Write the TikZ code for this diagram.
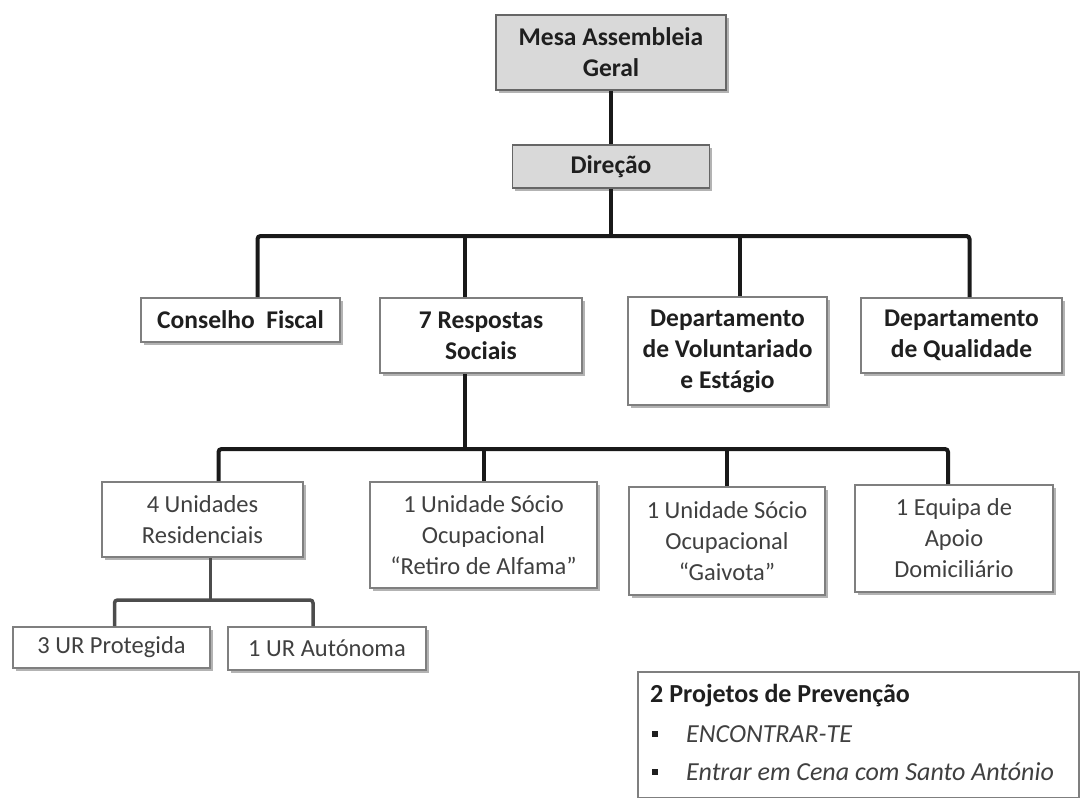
\documentclass[tikz,border=0pt]{standalone}
\usepackage{fontspec}
\setmainfont{Carlito}
\usetikzlibrary{shadows}
\definecolor{boxline}{HTML}{7F7F7F}
\definecolor{topfill}{HTML}{D9D9D9}
\definecolor{txtdark}{HTML}{1F1F1F}
\definecolor{txtgray}{HTML}{404040}
\tikzset{
  orgbox/.style={draw=boxline, line width=1.6pt, fill=white, align=center, inner sep=0pt,
    drop shadow={shadow xshift=2.5pt, shadow yshift=-2.5pt, fill=black!50, opacity=0.6},
    font=\fontsize{24.5}{31}\selectfont, text=txtgray},
  deptbox/.style={orgbox, font=\fontsize{25.5}{31}\selectfont\bfseries, text=txtdark},
  headbox/.style={deptbox, fill=topfill, draw=black!60},
  conn/.style={line width=4pt, black!90, rounded corners=3pt},
  subconn/.style={line width=3.5pt, black!70, rounded corners=3pt},
}
\begin{document}
\begin{tikzpicture}[x=1pt,y=-1pt]
\useasboundingbox (0,0) rectangle (1080,798);
% top of the chart
\node[headbox, minimum width=230pt, minimum height=75pt] (mesa) at (611,52.5) {Mesa Assembleia\\Geral};
\node[headbox, minimum width=197pt, minimum height=43pt] (dir) at (611,166.5) {Direção};
% first level
\node[deptbox, minimum width=199pt, minimum height=44pt] (cf) at (240.5,320) {Conselho\ \ Fiscal};
\node[deptbox, minimum width=202pt, minimum height=75pt] (resp) at (481,335.5) {7 Respostas\\Sociais};
\node[deptbox, minimum width=199pt, minimum height=108pt] (vol) at (727.5,351) {Departamento\\de Voluntariado\\e Estágio};
\node[deptbox, minimum width=201pt, minimum height=75pt] (qual) at (961.5,335.5) {Departamento\\de Qualidade};
% respostas sociais
\node[orgbox, minimum width=201pt, minimum height=75pt] (res) at (202.5,519.5) {4 Unidades\\Residenciais};
\node[orgbox, minimum width=227pt, minimum height=106pt] (ret) at (483.5,535) {1 Unidade Sócio\\Ocupacional\\“Retiro de Alfama”};
\node[orgbox, minimum width=196pt, minimum height=108pt] (gai) at (727,541) {1 Unidade Sócio\\Ocupacional\\“Gaivota”};
\node[orgbox, minimum width=198pt, minimum height=107pt] (apo) at (954,538.5) {1 Equipa de\\Apoio\\Domiciliário};
\node[orgbox, minimum width=197pt, minimum height=41pt] (prot) at (111.5,647.5) {3 UR Protegida};
\node[orgbox, minimum width=198pt, minimum height=43pt] (aut) at (327,648.5) {1 UR Autónoma};
% projetos
\node[orgbox, anchor=north west, minimum width=441pt, minimum height=126pt] (proj) at (637,671) {};
\node[anchor=base west, inner sep=0pt, font=\fontsize{26}{31}\selectfont\bfseries, text=txtdark] (projtitle) at (650,702) {2 Projetos de Prevenção};
\foreach \txt [count=\i] in {ENCONTRAR-TE, Entrar em Cena com Santo António} {
  \node[anchor=base west, inner sep=0pt, font=\fontsize{26}{31}\selectfont\itshape, text=txtgray] (item\i) at (686,704+38*\i) {\txt};
  \fill[txtdark] ([xshift=-34pt,yshift=5pt]item\i.base west) rectangle ++(6pt,6pt);
}
% connectors
\coordinate (bar1) at (0,236);
\coordinate (bar2) at (0,449);
\coordinate (bar3) at (0,600);
\draw[conn] (mesa.south) -- (dir.north);
\draw[conn] (dir.south) -- (dir.south |- bar1);
\draw[conn] ([xshift=17pt]cf.north) |- ([xshift=8pt]qual.north |- bar1) -- ([xshift=8pt]qual.north);
\draw[conn] ([xshift=-16pt]resp.north) -- ([xshift=-16pt]resp.north |- bar1);
\draw[conn] ([xshift=12pt]vol.north) -- ([xshift=12pt]vol.north |- bar1);
\draw[conn] ([xshift=-16pt]resp.south) -- ([xshift=-16pt]resp.south |- bar2);
\draw[conn] ([xshift=16pt]res.north) |- ([xshift=-6pt]apo.north |- bar2) -- ([xshift=-6pt]apo.north);
\draw[conn] (ret.north) -- (ret.north |- bar2);
\draw[conn] (gai.north) -- (gai.north |- bar2);
\draw[subconn] ([xshift=8pt]res.south) -- ([xshift=8pt]res.south |- bar3);
\draw[subconn] ([xshift=3pt]prot.north) |- ([xshift=-14pt]aut.north |- bar3) -- ([xshift=-14pt]aut.north);
\end{tikzpicture}
\end{document}
